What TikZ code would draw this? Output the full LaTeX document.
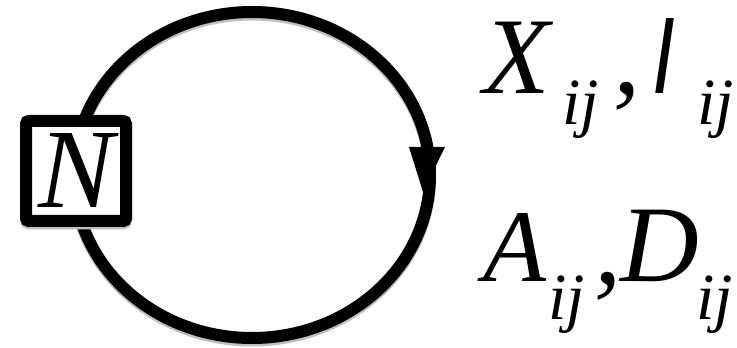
\documentclass[tikz,border=0pt]{standalone}
\usepackage{fontspec}
\setmainfont{Liberation Serif}
\newfontfamily\lsans{Liberation Sans}
\begin{document}
\begin{tikzpicture}[x=1pt,y=1pt,
  big/.style={inner sep=0pt,outer sep=0pt,anchor=base west,font=\fontsize{109}{110}\selectfont\itshape},
  sub/.style={inner sep=0pt,outer sep=0pt,anchor=base west,font=\fontsize{66}{68}\selectfont\itshape},
  loopline/.style={line width=12pt},
  shadowline/.style={line width=12pt,black!25},
  nbox/.style={draw,line width=12pt,fill=white,rounded corners=3pt,minimum size=100pt,inner sep=0pt,
    font=\fontsize{113}{114}\selectfont\itshape,text height=74pt,text depth=0pt}]
\useasboundingbox (0,0) rectangle (737,348);
% loop with soft shadow
\draw[shadowline] (252,170.5) ellipse [x radius=178, y radius=163];
\draw[loopline] (252,173) ellipse [x radius=178, y radius=163];
% arrowhead (clockwise flow, pointing down on the right)
\coordinate (tipL) at (409,201);
\coordinate (tipR) at (445,201);
\coordinate (tip) at (423,156);
\fill (tipL) -- (tipR) -- (tip) -- cycle;
% vertex box
\node[nbox,black!25] (shN) at (76,174.5) {};
\node[nbox] (N) at (76,177) {N};
% labels
\node[big] (X) at (483.6,254) {X};
\node[sub] (ij1) at (562,223) {ij};
\node[big] (c1) at (613,254) {,};
\node[inner sep=0pt,outer sep=0pt,anchor=base west,font=\fontsize{109}{110}\selectfont\lsans\itshape] (I) at (652,254) {\scalebox{0.75}[1]{I}};
\node[sub] (ij2) at (697,223) {ij};
\node[big,font=\fontsize{103}{104}\selectfont\itshape] (A) at (483,66) {A};
\node[sub] (ij3) at (548,28) {ij};
\node[big] (c2) at (594,64) {,};
\node[big] (D) at (620,66) {D};
\node[sub] (ij4) at (696,28) {ij};
\end{tikzpicture}
\end{document}
